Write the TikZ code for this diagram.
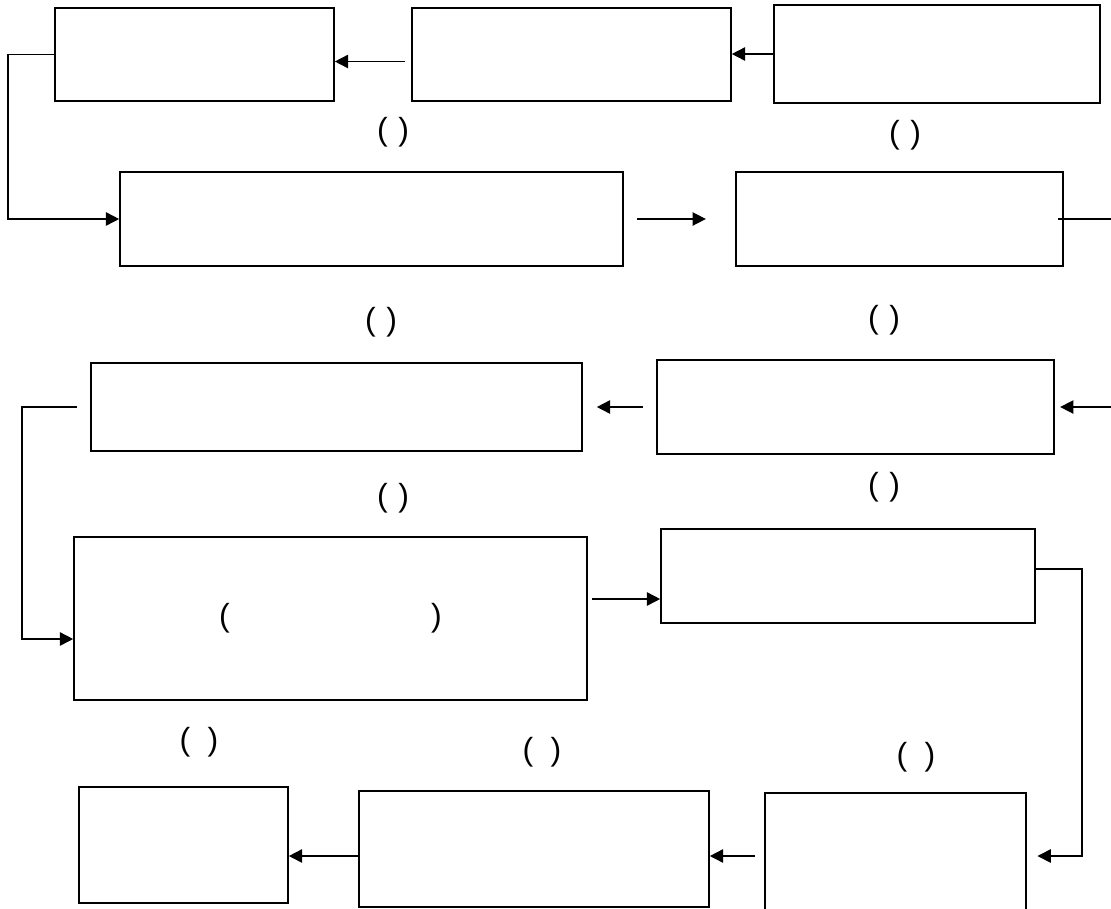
\documentclass[tikz,border=0pt]{standalone}
\usepackage{fontspec}
\setmainfont{Liberation Sans}
\usepackage{tikz}
\usetikzlibrary{arrows.meta}
\usetikzlibrary{calc}

\begin{document}
\begin{tikzpicture}[x=0.75pt,y=-0.75pt]

% Define styles
\tikzset{
    box/.style 2 args={draw, line width=1.2pt, inner sep=0pt, minimum width=#1*0.75pt, minimum height=#2*0.75pt},
    wire/.style={line width=1.2pt},
    arrow/.style={line width=1.2pt, -{Triangle[length=10pt,width=10pt]}},
    blank/.style={font=\fontsize{24}{28}\selectfont, inner sep=0pt}
}

\useasboundingbox (0,0) rectangle (1111,908);

% first row
\node[box={279}{93}] (B1) at (194.5,54.5) {};
\node[box={319}{93}] (B2) at (571.5,54.5) {};
\node[box={326}{98}] (B3) at (937,54) {};

% second row
\node[box={503}{94}] (C1) at (371.5,219) {};
\node[box={327}{94}] (C2) at (899.5,219) {};

% third row
\node[box={491}{88}] (D1) at (336.5,407) {};
\node[box={397}{94}] (D2) at (855.5,407) {};

% fourth row
\node[box={513}{163}, font=\fontsize{24}{28}\selectfont] (E1) at (330.5,618.5) {(\hspace{151pt})};
\node[box={374}{94}] (E2) at (848,576) {};

% last row
\node[box={209}{116}] (F1) at (183.5,845) {};
\node[box={350}{116}] (F2) at (534,849) {};
\node[box={261}{126}] (F3) at (895.5,856) {};

% empty brackets
\node[blank] (t1) at (393,132) {(\hspace{8pt})};
\node[blank] (t2) at (905,135) {(\hspace{8pt})};
\node[blank] (t3) at (381,322) {(\hspace{8pt})};
\node[blank] (t4) at (884,320) {(\hspace{8pt})};
\node[blank] (t5) at (393,498) {(\hspace{8pt})};
\node[blank] (t6) at (884,487) {(\hspace{8pt})};
\node[blank] (t7) at (199,742) {(\hspace{13pt})};
\node[blank] (t8) at (542,752) {(\hspace{13pt})};
\node[blank] (t9) at (916,757) {(\hspace{13pt})};

%corners of the loops and loose ends
\coordinate (L1) at (8,56);
\coordinate (L2) at (22,639);
\coordinate (L3) at (1082,569);
\coordinate (outC) at (1111,219);
\coordinate (inD) at (1111,407);
\coordinate (midE) at (0,599);

% arrows of first row
\draw[arrow] ([xshift=-5pt]B2.west |- B1.east) ++(0,7) -- ($(B1.east)+(0,7)$);
\draw[arrow] (B3.west) -- (B3.west -| B2.east);
\draw[arrow] (B1.west) -- (B1.west -| L1) |- (C1.west);

% arrows of second row
\draw[arrow] ([xshift=10pt]C1.east) -- ([xshift=-22pt]C2.west);
\draw[wire] ([xshift=-4pt]C2.east) -- (outC);

% arrows of third row
\draw[arrow] (inD) -- ([xshift=4pt]D2.east);
\draw[arrow] ([xshift=-10pt]D2.west) -- ($(D1.east)+(14,0)$);
\draw[arrow] ([xshift=-10pt]D1.west) -- (D1.west -| L2) |- (E1.west |- L2);

% arrows of fourth row
\draw[arrow] ($(E1.east |- midE)+(4,0)$) -- (E2.west |- midE);
\draw[arrow] (E2.east |- L3) -- (L3) |- ([xshift=8pt]F3.east);

% arrows of last row
\draw[arrow] ([xshift=-7pt]F3.west) -- (F3.west -| F2.east);
\draw[arrow] (F3.west -| F2.west) -- (F3.west -| F1.east);

\end{tikzpicture}
\end{document}
